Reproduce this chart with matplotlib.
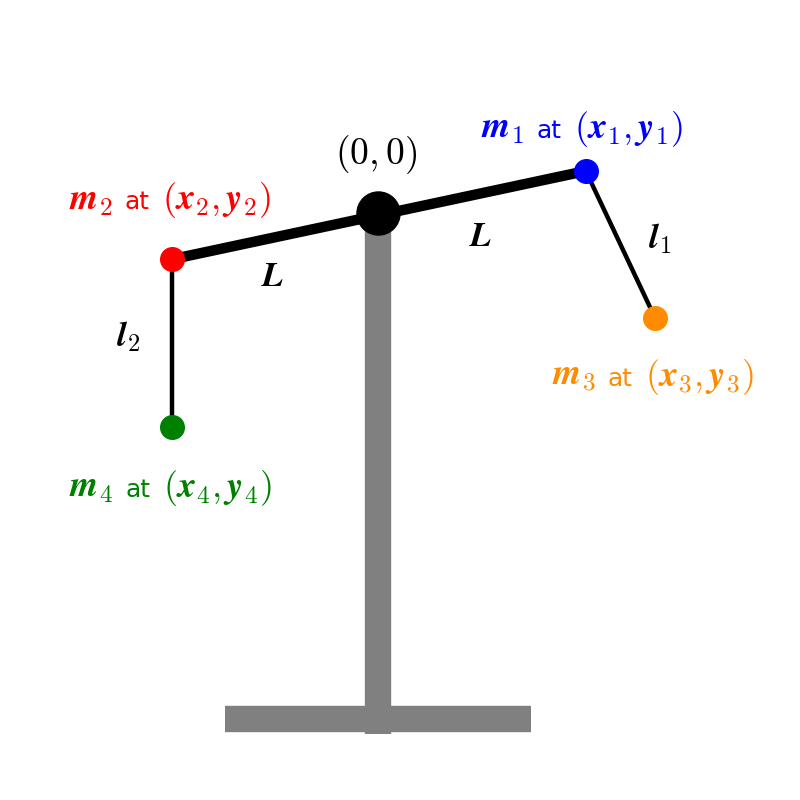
import matplotlib
matplotlib.use('Agg')
import numpy as np
from matplotlib import pyplot as plt
from matplotlib.offsetbox import TextArea, HPacker, AnnotationBbox

plt.rcParams['mathtext.fontset'] = 'cm'

# positions (pivot at origin, beam length L = 1)
pivot = [0.0, 0.0]
m1_pos = [0.99, 0.20]
m2_pos = [-0.98, -0.22]
m3_pos = [1.32, -0.50]
m4_pos = [-0.98, -1.02]

stand_x = [0.0, 0.0]
stand_y = [0.0, -2.48]
base_x = [-0.73, 0.73]
base_y = [-2.41, -2.41]

mass_colors = ['blue', 'red', 'darkorange', 'green']
mass_ids = ['1', '2', '3', '4']
label_offsets = [(-0.02, 0.20), (-0.01, 0.28), (-0.01, -0.28), (-0.01, -0.29)]

MATH_FS = 26
AT_FS = 18


def mass_label(idx, color):
    left = r'$\boldsymbol{m}_\mathbf{%s}$' % idx
    right = r'$(\boldsymbol{x}_\mathbf{%s}\mathbf{,}\, \boldsymbol{y}_\mathbf{%s})$' % (idx, idx)
    parts = [TextArea(left, textprops=dict(color=color, fontsize=MATH_FS)),
             TextArea('at', textprops=dict(color=color, fontsize=AT_FS)),
             TextArea(right, textprops=dict(color=color, fontsize=MATH_FS))]
    return HPacker(children=parts, align='baseline', pad=0, sep=9)


fig = plt.figure(figsize=(8, 8), dpi=100)
ax = fig.add_axes([0, 0, 1, 1])

# stand
ax.plot(stand_x, stand_y, color='gray', lw=19, solid_capstyle='butt', zorder=1)
ax.plot(base_x, base_y, color='gray', lw=19, solid_capstyle='butt', zorder=1)

# beam
ax.plot([m2_pos[0], m1_pos[0]], [m2_pos[1], m1_pos[1]], color='black', lw=7.5, zorder=2)
# strings
ax.plot([m1_pos[0], m3_pos[0]], [m1_pos[1], m3_pos[1]], color='black', lw=3.2, zorder=2)
ax.plot([m2_pos[0], m4_pos[0]], [m2_pos[1], m4_pos[1]], color='black', lw=3.2, zorder=2)

ax.plot(pivot[0], pivot[1], 'o', color='black', ms=31, zorder=3)
ax.text(-0.01, 0.28, r'$(0, 0)$', fontsize=27, ha='center', va='center')

positions = [m1_pos, m2_pos, m3_pos, m4_pos]
for p, c, idx, off in zip(positions, mass_colors, mass_ids, label_offsets):
    ax.plot(p[0], p[1], 'o', color=c, ms=17, zorder=4)
    ab = AnnotationBbox(mass_label(idx, c), (p[0] + off[0], p[1] + off[1]),
                        xycoords='data', frameon=False, box_alignment=(0.5, 0.5), pad=0)
    ax.add_artist(ab)

ax.text(-0.50, -0.30, r'$\boldsymbol{L}$', fontsize=25, ha='center', va='center')
ax.text(0.49, -0.11, r'$\boldsymbol{L}$', fontsize=25, ha='center', va='center')
ax.text(1.34, -0.12, r'$\boldsymbol{l}_\mathbf{1}$', fontsize=25, ha='center', va='center')
ax.text(-1.19, -0.59, r'$\boldsymbol{l}_\mathbf{2}$', fontsize=25, ha='center', va='center')

ax.set_xlim(-1.8, 2.01)
ax.set_ylim(-2.795, 1.014)
ax.set_aspect('equal')
ax.axis('off')

fig.savefig('out.png', dpi=100)
